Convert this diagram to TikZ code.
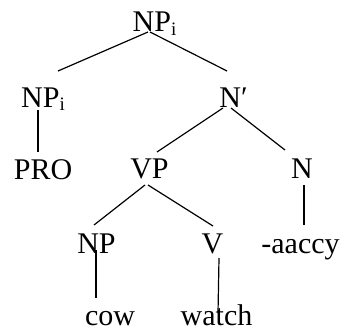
\documentclass[tikz,border=0pt]{standalone}
\usepackage{fontspec}
\setmainfont{Liberation Serif}
\usetikzlibrary{calc}
\newcommand{\subi}{\raisebox{-0.12em}{\fontsize{19}{19}\selectfont i}}
\begin{document}
\begin{tikzpicture}[x=1pt,y=1pt,
  lbl/.style={anchor=base,inner sep=0pt,font=\fontsize{30}{30}\selectfont},
  edge/.style={line width=1.2pt}]
\useasboundingbox (0,0) rectangle (344,-331);
\node[lbl] (npt) at (154.5,-32) {NP\subi};
\node[lbl] (npl) at (43,-107) {NP\subi};
\node[lbl] (nbar) at (233.5,-107) {N′};
\node[lbl] (pro) at (43,-179) {PRO};
\node[lbl] (vp) at (149.5,-178) {VP};
\node[lbl] (n) at (302,-178) {N};
\node[lbl] (np) at (96.5,-253) {NP};
\node[lbl] (v) at (212.5,-253) {V};
\node[lbl] (suf) at (300.5,-253) {-aaccy};
\node[lbl] (cow) at (110,-325) {cow};
\node[lbl] (watch) at (216.5,-325) {watch};
\draw[edge] ($(npt.base)+(-6.5,0)$) -- ($(npl.base)+(15,36)$);
\draw[edge] ($(npt.base)+(-4.5,0)$) -- ($(nbar.base)+(-6.5,36)$);
\draw[edge] ($(npl.base)+(-5,-3)$) -- ($(pro.base)+(-5,27)$);
\draw[edge] ($(nbar.base)+(-10.5,-1)$) -- ($(vp.base)+(7.5,26)$);
\draw[edge] ($(nbar.base)+(-2.5,-1)$) -- ($(n.base)+(-17,28)$);
\draw[edge] ($(vp.base)+(-4.5,-7)$) -- ($(np.base)+(-2.5,28)$);
\draw[edge] ($(vp.base)+(-1.5,-7)$) -- ($(v.base)+(0.5,27)$);
\draw[edge] ($(n.base)+(2,-7)$) -- ($(suf.base)+(3.5,28)$);
\draw[edge] ($(np.base)+(-0.5,3)$) -- ($(cow.base)+(-14,27)$);
\draw[edge] ($(v.base)+(6.5,-5)$) -- ($(watch.base)+(1.5,12)$);
\end{tikzpicture}
\end{document}
